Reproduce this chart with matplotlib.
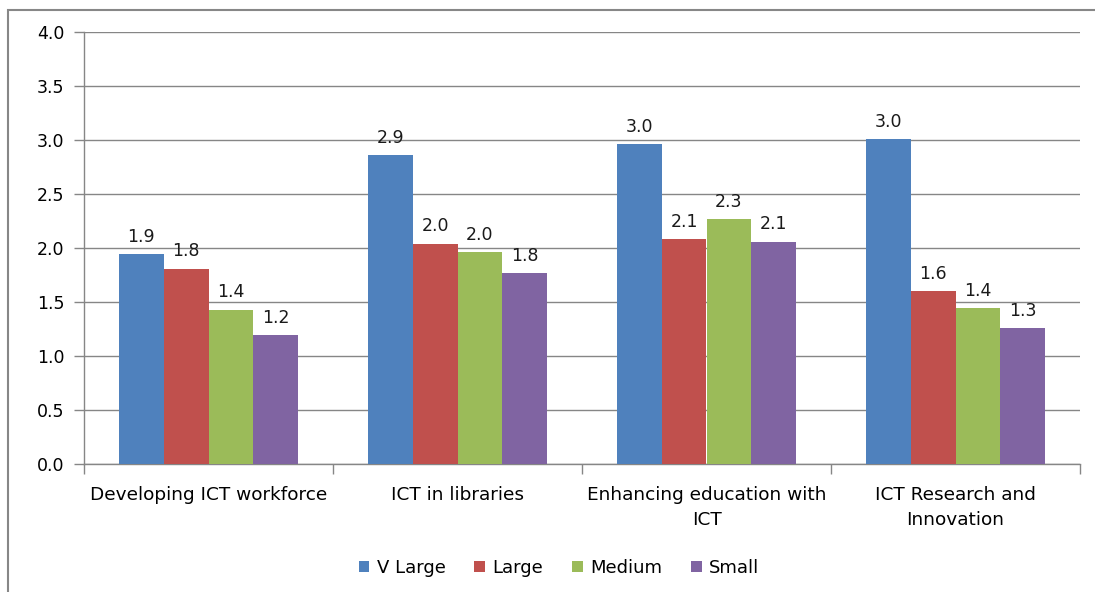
import matplotlib
matplotlib.use("Agg")
import matplotlib.pyplot as plt
import numpy as np
from matplotlib.patches import Rectangle

categories = ["Developing ICT workforce", "ICT in libraries",
              "Enhancing education with\nICT", "ICT Research and\nInnovation"]
series_names = ["V Large", "Large", "Medium", "Small"]
v_large = [1.94, 2.86, 2.96, 3.01]
large = [1.81, 2.04, 2.08, 1.60]
medium = [1.43, 1.96, 2.27, 1.44]
small = [1.19, 1.77, 2.06, 1.26]
colors = ["#4F81BD", "#C0504D", "#9BBB59", "#8064A2"]
yticks = [0.0, 0.5, 1.0, 1.5, 2.0, 2.5, 3.0, 3.5, 4.0]

plt.rcParams['font.family'] = ['DejaVu Sans']
fig = plt.figure(figsize=(10.95, 5.92), dpi=100)
W, H = 1095, 592
ax = fig.add_axes([84 / W, 1 - 464 / H, (1080 - 84) / W, (464 - 32) / H])

# outer chart frame
fig.patches.append(Rectangle((8 / W, -0.1), 1.2, 1 - 10 / H + 0.1, transform=fig.transFigure,
                             fill=False, edgecolor="#878787", linewidth=1.5))

data = [v_large, large, medium, small]
n = len(categories)
x = np.arange(n)
bw = 0.18
for i, (vals, c, name) in enumerate(zip(data, colors, series_names)):
    pos = x + (i - 1.5) * bw
    ax.bar(pos, vals, width=bw, color=c, label=name, zorder=3)
    for px, v in zip(pos, vals):
        ax.annotate(f"{v:.1f}", (px, v), xytext=(0, 6), textcoords="offset points",
                    ha="center", va="bottom", fontsize=12.5, color="#1a1a1a")

ax.set_xlim(-0.5, n - 0.5)
ax.set_ylim(0, 4.0)
ax.set_yticks(yticks)
ax.set_yticklabels([f"{t:.1f}" for t in yticks], fontsize=12.5)
ax.yaxis.grid(True, color="#868686", linewidth=1, zorder=0)
ax.set_axisbelow(True)
ax.tick_params(axis="y", length=7, color="#868686", width=1, pad=7)

ax.set_xticks(x)
ax.set_xticklabels(categories, fontsize=13.3, linespacing=1.5)
ax.tick_params(axis="x", which="major", length=0, pad=16)
ax.set_xticks(np.arange(-0.5, n, 1.0), minor=True)
ax.tick_params(axis="x", which="minor", length=7, color="#868686", width=1)

for s in ["top", "right"]:
    ax.spines[s].set_visible(False)
for s in ["left", "bottom"]:
    ax.spines[s].set_color("#868686")
    ax.spines[s].set_linewidth(1)

leg = fig.legend(loc="center", bbox_to_anchor=(559 / W, 1 - 568 / H), ncol=4, frameon=False,
                 fontsize=13, handlelength=0.6, handleheight=0.6, handletextpad=0.4,
                 columnspacing=1.6)

fig.savefig("out.png", dpi=100)
